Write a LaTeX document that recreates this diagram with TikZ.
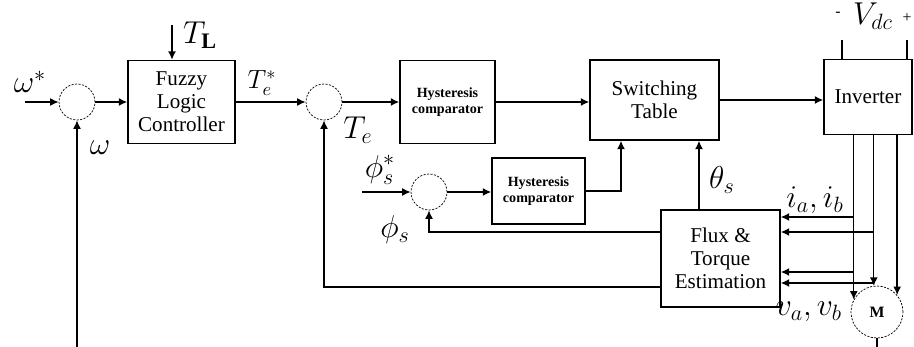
\documentclass[tikz,border=0pt]{standalone}
\usepackage{fix-cm}
\usepackage{amsmath}
\usepackage{fontspec}
\setmainfont{Liberation Serif}
\usetikzlibrary{arrows.meta, positioning}

\begin{document}
\begin{tikzpicture}[
    x=0.02cm, y=-0.02cm,
    blk/.style={draw, line width=0.8pt, align=center, inner sep=1pt,
                font=\fontsize{12}{13}\selectfont},
    hyst/.style={blk, font=\bfseries\fontsize{8}{9.5}\selectfont},
    sumj/.style={circle, draw, dash pattern=on 1.2pt off 0.8pt,
                 minimum size=0.72cm, inner sep=0pt},
    arr/.style={-{Latex[length=1.7mm, width=1.6mm]}, line width=0.8pt},
    lbl/.style={font=\fontsize{18}{20}\selectfont, inner sep=0pt}
]
\useasboundingbox (0,0) rectangle (914,347);

% blocks
\node[sumj] (sum1) at (77,102) {};
\node[blk, minimum width=2.14cm, minimum height=1.66cm] (flc) at (181.5,102) {Fuzzy\\Logic\\Controller};
\node[sumj] (sum2) at (324,102) {};
\node[hyst, minimum width=1.9cm, minimum height=1.66cm] (hyst1) at (447.5,102) {Hysteresis\\comparator};
\node[blk, minimum width=2.58cm, minimum height=1.6cm] (st) at (654.5,100) {Switching\\Table};
\node[blk, minimum width=1.76cm, minimum height=1.5cm] (inv) at (868,97) {Inverter};
\node[sumj] (sum3) at (429,192) {};
\node[hyst, minimum width=1.86cm, minimum height=1.32cm] (hyst2) at (538.5,191) {Hysteresis\\comparator};
\node[blk, minimum width=2.38cm, minimum height=1.94cm] (fte) at (720.5,258.5) {Flux \&\\Torque\\Estimation};
\node[circle, draw, dash pattern=on 1.2pt off 0.8pt, minimum size=1.04cm, inner sep=0pt,
      font=\bfseries\fontsize{9}{10}\selectfont] (motor) at (877,312) {M};

% free ends
\coordinate (wref) at (25,102);
\coordinate (wfb) at (77,347);
\coordinate (tl) at (172,25);
\coordinate (teb) at (0,287);
\coordinate (phiref) at (362,192);
\coordinate (phib) at (0,232);
\coordinate (hy2up) at (621,0);
\coordinate (th) at (699,0);
\coordinate (vm) at (842,40);
\coordinate (vp) at (907,40);
\coordinate (mgnd) at (877,347);
\coordinate (ia1) at (0,217);
\coordinate (ia2) at (0,232);
\coordinate (va1) at (0,272);
\coordinate (va2) at (0,283);

% speed loop
\draw[arr] (wref) -- (sum1.west);
\draw[arr] (wfb) -- (sum1.south);
\draw[arr] (sum1) -- (flc);
\draw[arr] (tl) -- (tl |- flc.north);
\draw[arr] (flc) -- (sum2);

% torque and flux loops
\draw[arr] (sum2) -- (hyst1);
\draw[arr] (hyst1.east) -- (hyst1.east -| st.west);
\draw[arr] (st.east) -- (st.east -| inv.west);
\draw[arr] (fte.west |- teb) -| (sum2.south);
\draw[arr] (phiref) -- (sum3.west);
\draw[arr] (sum3) -- (sum3 -| hyst2.west);
\draw[arr] (hyst2.east) -| (hy2up |- st.south);
\draw[arr] (th |- fte.north) -- (th |- st.south);
\draw[arr] (fte.west |- phib) -| (sum3.south);

% inverter and motor
\draw[line width=0.8pt] (vm) -- (vm |- inv.north);
\draw[line width=0.8pt] (vp) -- (vp |- inv.north);
\foreach \a in {152,97,40}
  \draw[arr] (motor.\a |- inv.south) -- (motor.\a);
\draw[arr] (motor.152 |- ia1) -- (fte.east |- ia1);
\draw[arr] (motor.97 |- ia2) -- (fte.east |- ia2);
\draw[arr] (motor.152 |- va1) -- (fte.east |- va1);
\draw[arr] (motor.97 |- va2) -- (fte.east |- va2);
\draw[line width=0.8pt] (motor.south) -- (mgnd);

% labels
\node[lbl] (wreflbl) at (30,82) {$\omega^*$};
\node[lbl] (tllbl) at (200,35) {$T_{\mathbf{L}}$};
\node[lbl, font=\fontsize{15}{17}\selectfont] (telbl) at (262,83) {$T_e^*$};
\node[lbl] (wfblbl) at (100,148) {$\omega$};
\node[lbl] (tefblbl) at (358,130) {$T_e$};
\node[lbl] (phireflbl) at (380,170) {$\phi_s^*$};
\node[lbl] (phifblbl) at (395,230) {$\phi_s$};
\node[lbl] (thlbl) at (722,180) {$\theta_s$};
\node[lbl] (ialbl) at (815,200) {$i_a, i_b$};
\node[lbl] (valbl) at (809,312) {$v_a, v_b$};
\node[lbl] (vdclbl) at (873,16) {$V_{dc}$};
\node[inner sep=0pt, font=\small] (vminus) at (838,14) {-};
\node[inner sep=0pt, font=\small] (vplus) at (907,18) {+};
\end{tikzpicture}
\end{document}
